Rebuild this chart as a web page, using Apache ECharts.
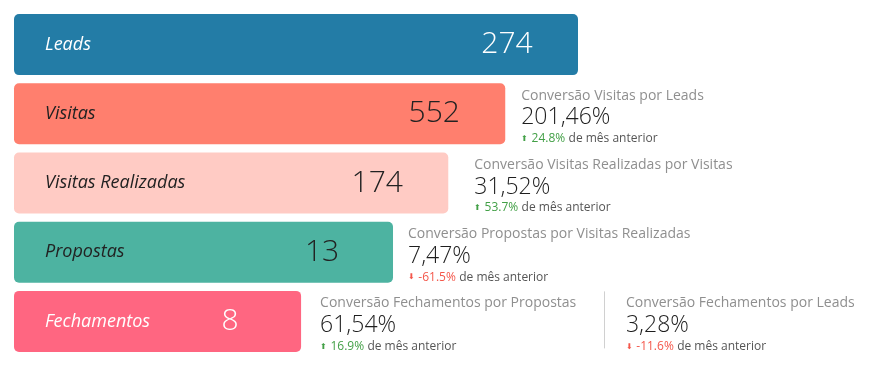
<!DOCTYPE html>
<html><head><meta charset="utf-8">
<script src="https://cdn.jsdelivr.net/npm/echarts@6/dist/echarts.min.js"></script>
<style>html,body{margin:0;padding:0;background:#fff}#c{width:892px;height:370px}</style>
</head><body><div id="c"></div>
<script>
// ---- data ----
const stages = ['Leads', 'Visitas', 'Visitas Realizadas', 'Propostas', 'Fechamentos'];
const stageValues = [274, 552, 174, 13, 8];
// relative funnel lengths of each stage card (% of widest)
const stageLength = [100, 87.1, 77, 67.2, 50.9];
const convTitles = [null, 'Conversão Visitas por Leads', 'Conversão Visitas Realizadas por Visitas', 'Conversão Propostas por Visitas Realizadas', 'Conversão Fechamentos por Propostas'];
const convValues = [null, '201,46%', '31,52%', '7,47%', '61,54%'];
const convChange = [null, 24.8, 53.7, -61.5, 16.9];
const extraTitle = 'Conversão Fechamentos por Leads';
const extraValue = '3,28%';
const extraChange = -11.6;
const extraPos = 104.6; // axis position of the extra block divider

// ---- styles ----
const colors = ['#237CA6', '#FF7F6E', '#FFCBC4', '#4DB3A1', '#FF6681'];
const textColors = ['#ffffff', '#222222', '#222222', '#222222', '#ffffff'];
const convGap = [0, 16, 26, 15, 19];
const FONT = 'Open Sans';
const GREEN = '#43a047', RED = '#f4574b';

function convText(title, value, change) {
  const up = change >= 0;
  return '{t|' + title + '}\n{v|' + value + '}\n' + (up ? '{au|⬆}' : '{ad|⬇}') + ' ' +
    (up ? '{g|' : '{r|') + change + '%}' + ' {s|de mês anterior}';
}
const rich = {
  t: {color: '#8f8f8f', fontSize: 14, lineHeight: 20, fontFamily: FONT},
  v: {color: '#1e1e1e', fontSize: 23, lineHeight: 24, fontFamily: FONT, fontWeight: 300},
  au: {color: GREEN, fontSize: 8, lineHeight: 18},
  ad: {color: RED, fontSize: 8, lineHeight: 18},
  g: {color: GREEN, fontSize: 12, lineHeight: 18, fontFamily: FONT},
  r: {color: RED, fontSize: 12, lineHeight: 18, fontFamily: FONT},
  s: {color: '#555', fontSize: 12, lineHeight: 18, fontFamily: FONT}
};

const chart = echarts.init(document.getElementById('c'), null, {renderer: 'canvas'});
const common = {type: 'bar', barWidth: 61, barGap: '-100%', silent: true, animation: false, clip: false};

chart.setOption({
  animation: false,
  grid: {left: 14, width: 846, top: 10, height: 346},
  xAxis: {type: 'value', min: 0, max: 150, show: false},
  yAxis: {type: 'category', data: stages, inverse: true, show: false},
  series: [
    Object.assign({}, common, {
      data: stageLength.map((v, i) => ({
        value: v,
        itemStyle: {color: colors[i], borderRadius: 5},
        label: {color: textColors[i]}
      })),
      label: {
        show: true, position: 'insideLeft', distance: 31,
        formatter: p => stages[p.dataIndex],
        fontFamily: FONT, fontStyle: 'italic', fontSize: 18
      }
    }),
    Object.assign({}, common, {
      data: stageLength.map((v, i) => ({value: v, label: {color: textColors[i]}})),
      itemStyle: {color: 'transparent'},
      label: {
        show: true, position: 'insideRight', distance: 71, align: 'center',
        formatter: p => String(stageValues[p.dataIndex]),
        fontFamily: FONT, fontSize: 30, fontWeight: 300
      }
    }),
    Object.assign({}, common, {
      data: stageLength.map((v, i) => convTitles[i] ? {value: v, label: {distance: convGap[i]}} : '-'),
      itemStyle: {color: 'transparent'},
      label: {
        show: true, position: 'right', offset: [0, 3],
        formatter: p => convText(convTitles[p.dataIndex], convValues[p.dataIndex], convChange[p.dataIndex]),
        rich: rich
      }
    }),
    Object.assign({}, common, {
      data: stages.map((s, i) => i === stages.length - 1 ? extraPos : '-'),
      itemStyle: {color: 'transparent'},
      label: {
        show: true, position: 'right', distance: 22, offset: [0, 3],
        formatter: () => convText(extraTitle, extraValue, extraChange),
        rich: rich
      }
    })
  ]
});

// divider between the two last conversion blocks
const sx = chart.convertToPixel({xAxisIndex: 0}, extraPos);
const sy = chart.convertToPixel({yAxisIndex: 0}, stages[stages.length - 1]);
chart.setOption({
  graphic: [{
    type: 'line', silent: true,
    shape: {x1: Math.round(sx) + 0.5, y1: sy - 30, x2: Math.round(sx) + 0.5, y2: sy + 27},
    style: {stroke: '#d0d0d0', lineWidth: 1}
  }]
});
</script></body></html>
